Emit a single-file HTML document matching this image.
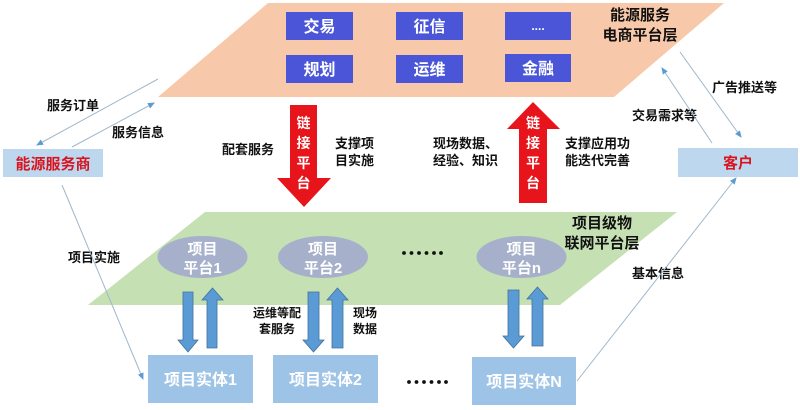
<!DOCTYPE html>
<html><head><meta charset="utf-8"><style>
html,body{margin:0;padding:0;background:#fff;}
svg{display:block;}
text{font-family:"Liberation Sans","Noto Sans CJK SC",sans-serif;font-weight:bold;}
</style></head><body>
<svg width="800" height="410" viewBox="0 0 800 410" xmlns="http://www.w3.org/2000/svg">
<defs>
<marker id="ah" markerWidth="8" markerHeight="8" refX="6" refY="3" orient="auto" markerUnits="userSpaceOnUse">
<path d="M0,0 L7,3 L0,6 z" fill="#5b9bd5"/>
</marker>
</defs>
<!-- top platform -->
<polygon points="268,3 724,3 614,97 158,97" fill="#f7c8a9"/>
<g fill="#4a55d8">
<rect x="286" y="12" width="67" height="28"/>
<rect x="396" y="12" width="67" height="28"/>
<rect x="505" y="12" width="66" height="28"/>
<rect x="286" y="55" width="67" height="28"/>
<rect x="396" y="55" width="67" height="28"/>
<rect x="505" y="54" width="66" height="28"/>
</g>
<g fill="#fff" font-size="16" text-anchor="middle">
<text x="319.5" y="32">交易</text>
<text x="429.5" y="32">征信</text>
<text x="538" y="30" font-size="12">....</text>
<text x="319.5" y="75">规划</text>
<text x="429.5" y="75">运维</text>
<text x="538" y="74">金融</text>
</g>
<g font-size="15" text-anchor="middle" fill="#111">
<text x="640" y="20">能源服务</text>
<text x="640" y="40">电商平台层</text>
</g>
<!-- green platform -->
<polygon points="205,212 677,212 560,305 88,305" fill="#c5e0b3"/>
<!-- red arrows -->
<polygon points="290,105 317,105 317,178 331,178 304,207 277,178 290,178" fill="#e8141b"/>
<polygon points="533,102 560,129 547,129 547,203 519,203 519,129 507,129" fill="#e8141b"/>
<g fill="#fff" font-size="14" text-anchor="middle" font-weight="normal">
<text x="303.5" y="128">链</text><text x="303.5" y="148">接</text><text x="303.5" y="168">平</text><text x="303.5" y="188">台</text>
<text x="533" y="128">链</text><text x="533" y="148">接</text><text x="533" y="168">平</text><text x="533" y="188">台</text>
</g>
<!-- side labels -->
<g font-size="13" fill="#111">
<text x="222" y="154">配套服务</text>
<text x="335" y="148">支撑项</text>
<text x="335" y="165">目实施</text>
<text x="433" y="148">现场数据、</text>
<text x="433" y="165">经验、知识</text>
<text x="565" y="148">支撑应用功</text>
<text x="565" y="165">能迭代完善</text>
<text x="632" y="120">交易需求等</text>
<text x="712" y="92">广告推送等</text>
<text x="47" y="110">服务订单</text>
<text x="112" y="137">服务信息</text>
<text x="68" y="262">项目实施</text>
<text x="632" y="278">基本信息</text>
</g>
<!-- side boxes -->
<rect x="3" y="149" width="100" height="28" fill="#bdd7ee"/>
<text x="53" y="169" font-size="15" fill="#d9141e" text-anchor="middle">能源服务商</text>
<rect x="678" y="148" width="120" height="29" fill="#bdd7ee"/>
<text x="738" y="168" font-size="15" fill="#d9141e" text-anchor="middle">客户</text>
<!-- thin lines -->
<g stroke="#9fb7cc" stroke-width="1" fill="none">
<line x1="158" y1="79" x2="37" y2="145" marker-end="url(#ah)"/>
<line x1="72" y1="147" x2="154" y2="103" marker-end="url(#ah)"/>
<line x1="712" y1="143" x2="662" y2="68" marker-end="url(#ah)"/>
<line x1="680" y1="52" x2="741" y2="137" marker-end="url(#ah)"/>
<line x1="62" y1="185" x2="143" y2="379" marker-end="url(#ah)"/>
<line x1="577" y1="381" x2="736" y2="178" marker-end="url(#ah)"/>
</g>
<!-- ellipses -->
<g fill="#a6b0ca">
<ellipse cx="202.5" cy="257" rx="45" ry="21"/>
<ellipse cx="323" cy="257" rx="45" ry="21"/>
<ellipse cx="521.5" cy="257" rx="45" ry="21"/>
</g>
<g fill="#fff" font-size="15" text-anchor="middle">
<text x="202.5" y="254">项目</text><text x="202.5" y="273">平台1</text>
<text x="323" y="254">项目</text><text x="323" y="273">平台2</text>
<text x="521.5" y="254">项目</text><text x="521.5" y="273">平台n</text>
</g>
<!-- dots -->
<g fill="#111">
<circle cx="404" cy="253" r="1.9"/><circle cx="411.5" cy="253" r="1.9"/><circle cx="419" cy="253" r="1.9"/>
<circle cx="426.5" cy="253" r="1.9"/><circle cx="434" cy="253" r="1.9"/><circle cx="441" cy="253" r="1.9"/>
<circle cx="409" cy="382" r="1.9"/><circle cx="416.5" cy="382" r="1.9"/><circle cx="424" cy="382" r="1.9"/>
<circle cx="431.5" cy="382" r="1.9"/><circle cx="439" cy="382" r="1.9"/><circle cx="446" cy="382" r="1.9"/>
</g>
<!-- blue block arrows -->
<g fill="#5b9bd5" stroke="#41719c" stroke-width="0.8">
<polygon points="183,292 193,292 193,340 198,340 188,352 178,340 183,340"/>
<polygon points="212.5,288 223,300 217,300 217,348 207,348 207,300 202,300"/>
<polygon points="308,292 319,292 319,340 324,340 313.5,352 303,340 308,340"/>
<polygon points="337.5,288 348,300 343,300 343,348 332,348 332,300 327,300"/>
<polygon points="508,290 519,290 519,336 524,336 513.5,348 503,336 508,336"/>
<polygon points="537.5,287 548,299 543,299 543,346 532,346 532,299 527,299"/>
</g>
<g font-size="12" fill="#111">
<text x="253" y="317">运维等配</text>
<text x="259" y="333">套服务</text>
<text x="353" y="317">现场</text>
<text x="353" y="333">数据</text>
</g>
<g font-size="15" fill="#111" text-anchor="middle">
<text x="602" y="228">项目级物</text>
<text x="602" y="248">联网平台层</text>
</g>
<!-- entity boxes -->
<g fill="#9dc3e6">
<rect x="148" y="355" width="105" height="48"/>
<rect x="273" y="355" width="105" height="48"/>
<rect x="472" y="357" width="104" height="48"/>
</g>
<g fill="#fff" font-size="16" text-anchor="middle">
<text x="200.5" y="385">项目实体1</text>
<text x="325.5" y="385">项目实体2</text>
<text x="524" y="387">项目实体N</text>
</g>
</svg>
</body></html>
